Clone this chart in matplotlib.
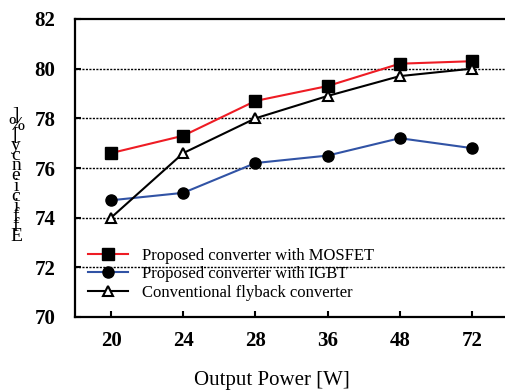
import matplotlib
matplotlib.use('Agg')
import matplotlib.pyplot as plt
import numpy as np

plt.rcParams['font.family'] = ['Liberation Serif', 'DejaVu Serif']

power_labels = ['20', '24', '28', '36', '48', '72']
eff_mosfet = [76.6, 77.3, 78.7, 79.3, 80.2, 80.3]
eff_igbt = [74.7, 75.0, 76.2, 76.5, 77.2, 76.8]
eff_flyback = [74.0, 76.6, 78.0, 78.9, 79.7, 80.0]
y_ticks = [70, 72, 74, 76, 78, 80, 82]

fig = plt.figure(figsize=(5.05, 3.9), dpi=100)
ax = fig.add_axes([75 / 505, 1 - 317 / 390, 433 / 505, 298 / 390])

x = np.arange(len(power_labels))

ax.plot(x, eff_mosfet, color='#ee1c24', lw=1.5, marker='s', ms=8,
        mfc='black', mec='black', label='Proposed converter with MOSFET', zorder=4)
ax.plot(x, eff_igbt, color='#3153a5', lw=1.5, marker='o', ms=8,
        mfc='black', mec='black', label='Proposed converter with IGBT', zorder=3)
ax.plot(x, eff_flyback, color='black', lw=1.5, marker='^', ms=7,
        mfc='white', mec='black', mew=1.5, label='Conventional flyback converter', zorder=5)

ax.set_xlim(-0.5, len(power_labels) - 0.5)
ax.set_ylim(70, 82)
ax.set_xticks(x)
ax.set_xticklabels(power_labels, fontsize=15, fontweight='bold')
ax.set_yticks(y_ticks)
ax.set_yticklabels([str(v) for v in y_ticks], fontsize=15, fontweight='bold')
ax.tick_params(axis='both', direction='in', length=4, width=1.5)
ax.tick_params(axis='y', pad=14)
ax.tick_params(axis='x', pad=10)

for v in y_ticks[1:-1]:
    ax.axhline(v, color='black', lw=1.0, ls=(0, (1.5, 1)), zorder=1)

for s in ax.spines.values():
    s.set_linewidth(1.6)

ax.set_xlabel('Output Power [W]', fontsize=15)
ax.xaxis.set_label_coords((272 - 75) / 433, -(380 - 317) / 298)
ax.xaxis.label.set_va('center')

# y label drawn as stacked upright characters, as in the source figure
fig.text(16 / 505, 1 - 176 / 390, ']\n%\n[\ny\nc\nn\ne\ni\nc\ni\nf\nf\nE',
         fontsize=14, ha='center', va='center', linespacing=0.47)

ax.legend(loc='lower left', bbox_to_anchor=(0.0, 0.01), frameon=False,
          fontsize=12, handlelength=2.4, handletextpad=0.8, labelspacing=0.15,
          borderaxespad=0.4)

fig.savefig('out.png', dpi=100)
